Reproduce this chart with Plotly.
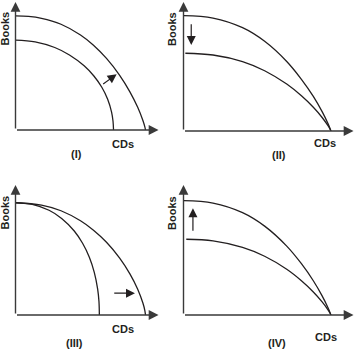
import plotly.graph_objects as go

# ---- Production possibilities frontiers (quantities of CDs vs Books) ----
# Panel (I): the whole frontier shifts outward
p1_outer_cds = [0, 10, 20, 35, 50, 60, 70, 80, 88, 94, 98, 99.5, 100]
p1_outer_books = [98, 97.6, 96.0, 90.9, 81.7, 72.9, 61.5, 47.2, 32.8, 19.5, 8.2, 2.7, 0]
p1_inner_cds = [0, 15.1, 30.2, 41.5, 52.8, 60.3, 66.4, 70.9, 73.9, 75.0, 75.4]
p1_inner_books = [77.3, 75.8, 70.9, 64.5, 55.2, 46.4, 36.7, 26.4, 15.4, 7.7, 0]

# Panel (II): book output falls, CD intercept unchanged
p2_outer_cds = [0, 19.1, 38.2, 52.5, 66.8, 76.3, 84.0, 89.7, 93.5, 94.9, 95.4]
p2_outer_books = [98.3, 96.3, 88.1, 76.5, 59.3, 44.1, 29.5, 16.5, 6.3, 1.8, 0]
p2_inner_cds = [1.2, 19.1, 38.2, 52.5, 66.8, 76.3, 84.0, 89.7, 93.5, 94.9, 95.4]
p2_inner_books = [66.3, 64.8, 59.2, 51.4, 40.0, 30.0, 20.2, 11.5, 4.5, 1.4, 0]

# Panel (III): CD output rises, book intercept unchanged
p3_outer_cds = [0, 20, 35, 50, 60, 70, 80, 88, 94, 98, 99.5, 100]
p3_outer_books = [95, 93.0, 88.2, 79.7, 71.7, 61.5, 48.3, 34.8, 21.8, 10.1, 3.8, 0]
p3_inner_cds = [0, 12.9, 25.8, 35.5, 45.2, 51.6, 56.8, 60.6, 63.2, 64.2, 64.5]
p3_inner_books = [95, 93.6, 88.6, 81.7, 71.1, 60.7, 48.9, 36.1, 21.9, 11.5, 0]

# Panel (IV): book output rises, CD intercept unchanged
p4_outer_cds = [0, 19.1, 38.2, 52.5, 66.8, 76.3, 84.0, 89.7, 93.5, 94.9, 95.4]
p4_outer_books = [96.7, 94.7, 86.6, 75.2, 58.3, 43.4, 29.0, 16.2, 6.2, 1.8, 0]
p4_inner_cds = [1.8, 19.1, 38.2, 52.5, 66.8, 76.3, 84.0, 89.7, 93.5, 94.9, 95.4]
p4_inner_books = [64.1, 62.7, 57.2, 49.7, 38.7, 29.0, 19.5, 11.1, 4.4, 1.3, 0]

# Shift arrows per panel: (tail cds, tail books, head cds, head books)
shift_arrows = [
    (66.3, 38.7, 77.8, 47.9),
    (5.0, 92.3, 5.0, 73.3),
    (74.8, 18.5, 91.9, 18.5),
    (6.1, 70.0, 6.1, 90.3),
]

panel_names = ["(I)", "(II)", "(III)", "(IV)"]
x_title = "CDs"
y_title = "Books"
axis_max = 110

W, H = 354, 350
INK = "#231f20"
FONT = "Liberation Sans, Arial, sans-serif"


def px_x(v):
    return v / W


def px_y(v):
    return 1 - v / H


# plot-area boxes in pixels: left, right, bottom, top
boxes = [
    (15.5, 158.5, 130, 2),
    (183.5, 353.5, 131, 2),
    (15.5, 158.5, 315, 185),
    (183.5, 353.5, 315, 185),
]

# label anchors in pixels: Books (x, y), CDs (x, y), panel name (x, y)
label_pos = [
    ((4.5, 29), (122.5, 144), (76.7, 154)),
    ((172, 29), (325, 142.5), (278.7, 155)),
    ((4.5, 213), (122.5, 329), (74.2, 343.3)),
    ((172, 213), (325.5, 336.7), (277, 343.3)),
]

curves = [
    [(p1_outer_cds, p1_outer_books), (p1_inner_cds, p1_inner_books)],
    [(p2_outer_cds, p2_outer_books), (p2_inner_cds, p2_inner_books)],
    [(p3_outer_cds, p3_outer_books), (p3_inner_cds, p3_inner_books)],
    [(p4_outer_cds, p4_outer_books), (p4_inner_cds, p4_inner_books)],
]

fig = go.Figure()
annotations = []
layout_axes = {}

for i in range(4):
    n = "" if i == 0 else str(i + 1)
    xr, yr = "x" + n, "y" + n
    left, right, bottom, top = boxes[i]
    layout_axes["xaxis" + n] = dict(
        domain=[px_x(left), px_x(right)], range=[0, axis_max],
        visible=False, anchor=yr, fixedrange=True,
    )
    layout_axes["yaxis" + n] = dict(
        domain=[px_y(bottom), px_y(top)], range=[0, axis_max],
        visible=False, anchor=xr, fixedrange=True,
    )

    for cx, cy in curves[i]:
        fig.add_trace(go.Scatter(
            x=cx, y=cy, xaxis=xr, yaxis=yr, mode="lines",
            line=dict(color=INK, width=1.3, shape="spline", smoothing=1.0),
            hoverinfo="skip", showlegend=False,
        ))

    # axes drawn as arrows
    for hx, hy in ((axis_max, 0), (0, axis_max)):
        annotations.append(dict(
            x=hx, y=hy, ax=0, ay=0, xref=xr, yref=yr, axref=xr, ayref=yr,
            text="", showarrow=True, arrowhead=2, arrowsize=1.4,
            arrowwidth=1.4, arrowcolor="#3a3a3a", standoff=0, startstandoff=0,
        ))

    tx, ty, hx, hy = shift_arrows[i]
    annotations.append(dict(
        x=hx, y=hy, ax=tx, ay=ty, xref=xr, yref=yr, axref=xr, ayref=yr,
        text="", showarrow=True, arrowhead=2, arrowsize=1.5,
        arrowwidth=1.2, arrowcolor=INK, standoff=0, startstandoff=0,
    ))

    (bx, by), (cx_, cy_), (nx, ny) = label_pos[i]
    common = dict(xref="paper", yref="paper", showarrow=False,
                  xanchor="center", yanchor="middle",
                  font=dict(family=FONT, size=11, color=INK))
    annotations.append(dict(x=px_x(bx), y=px_y(by), text="<b>%s</b>" % y_title,
                            textangle=-90, **common))
    annotations.append(dict(x=px_x(cx_), y=px_y(cy_), text="<b>%s</b>" % x_title,
                            **common))
    annotations.append(dict(x=px_x(nx), y=px_y(ny), text="<b>%s</b>" % panel_names[i],
                            **common))

fig.update_layout(
    width=W, height=H,
    margin=dict(l=0, r=0, t=0, b=0),
    paper_bgcolor="white", plot_bgcolor="white",
    annotations=annotations,
    showlegend=False,
    **layout_axes,
)

fig.write_html("out.html", config={"displayModeBar": False})
